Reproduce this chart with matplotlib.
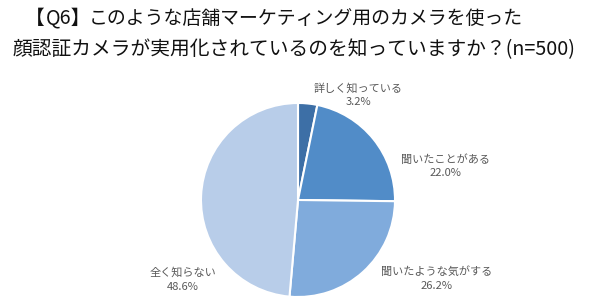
import matplotlib.pyplot as plt

plt.rcParams['font.family'] = ['Noto Sans CJK JP', 'DejaVu Sans']

# data
labels = ["詳しく知っている", "聞いたことがある", "聞いたような気がする", "全く知らない"]
values = [3.2, 22.0, 26.2, 48.6]
colors = ["#3d6fa6", "#518cc8", "#80abdc", "#b8cde9"]
title_tag = ["【", "Q6】"]
title_line1 = "このような店舗マーケティング用のカメラを使った"
title_line2 = "顔認証カメラが実用化されているのを知っていますか？(n=500)"

# label spots (pie data coords, radius 1)
label_pos = [(0.62, 1.08), (1.52, 0.35), (1.43, -0.81), (-1.19, -0.82)]

fig = plt.figure(figsize=(6, 3.08), dpi=100)
fig.patch.set_facecolor("white")

ax = fig.add_axes([201/600, 11/308, 194/600, 194/308])
ax.pie(values, colors=colors, startangle=90, counterclock=False,
       wedgeprops=dict(edgecolor="white", linewidth=1.5))
ax.set_xlim(-1, 1)
ax.set_ylim(-1, 1)
ax.set_aspect("equal")

for lab, v, (x, y) in zip(labels, values, label_pos):
    ax.text(x, y, f"{lab}\n{v:.1f}%", ha="center", va="center",
            fontsize=8, color="#595959", linespacing=1.45)

# title, line 1 in pieces so the bracket part stays narrow like the original
tc = "#111111"
y1 = 1 - 18/308
fig.text(25/600, y1, title_tag[0], fontsize=14.2, va="center", ha="left", color=tc)
fig.text(46/600, y1, title_tag[1], fontsize=14.2, va="center", ha="left", color=tc)
fig.text(89/600, y1, title_line1, fontsize=13.6, va="center", ha="left", color=tc)
fig.text(13/600, 1 - 50/308, title_line2, fontsize=14.2, va="center", ha="left", color=tc)

fig.savefig("out.png", dpi=100)
